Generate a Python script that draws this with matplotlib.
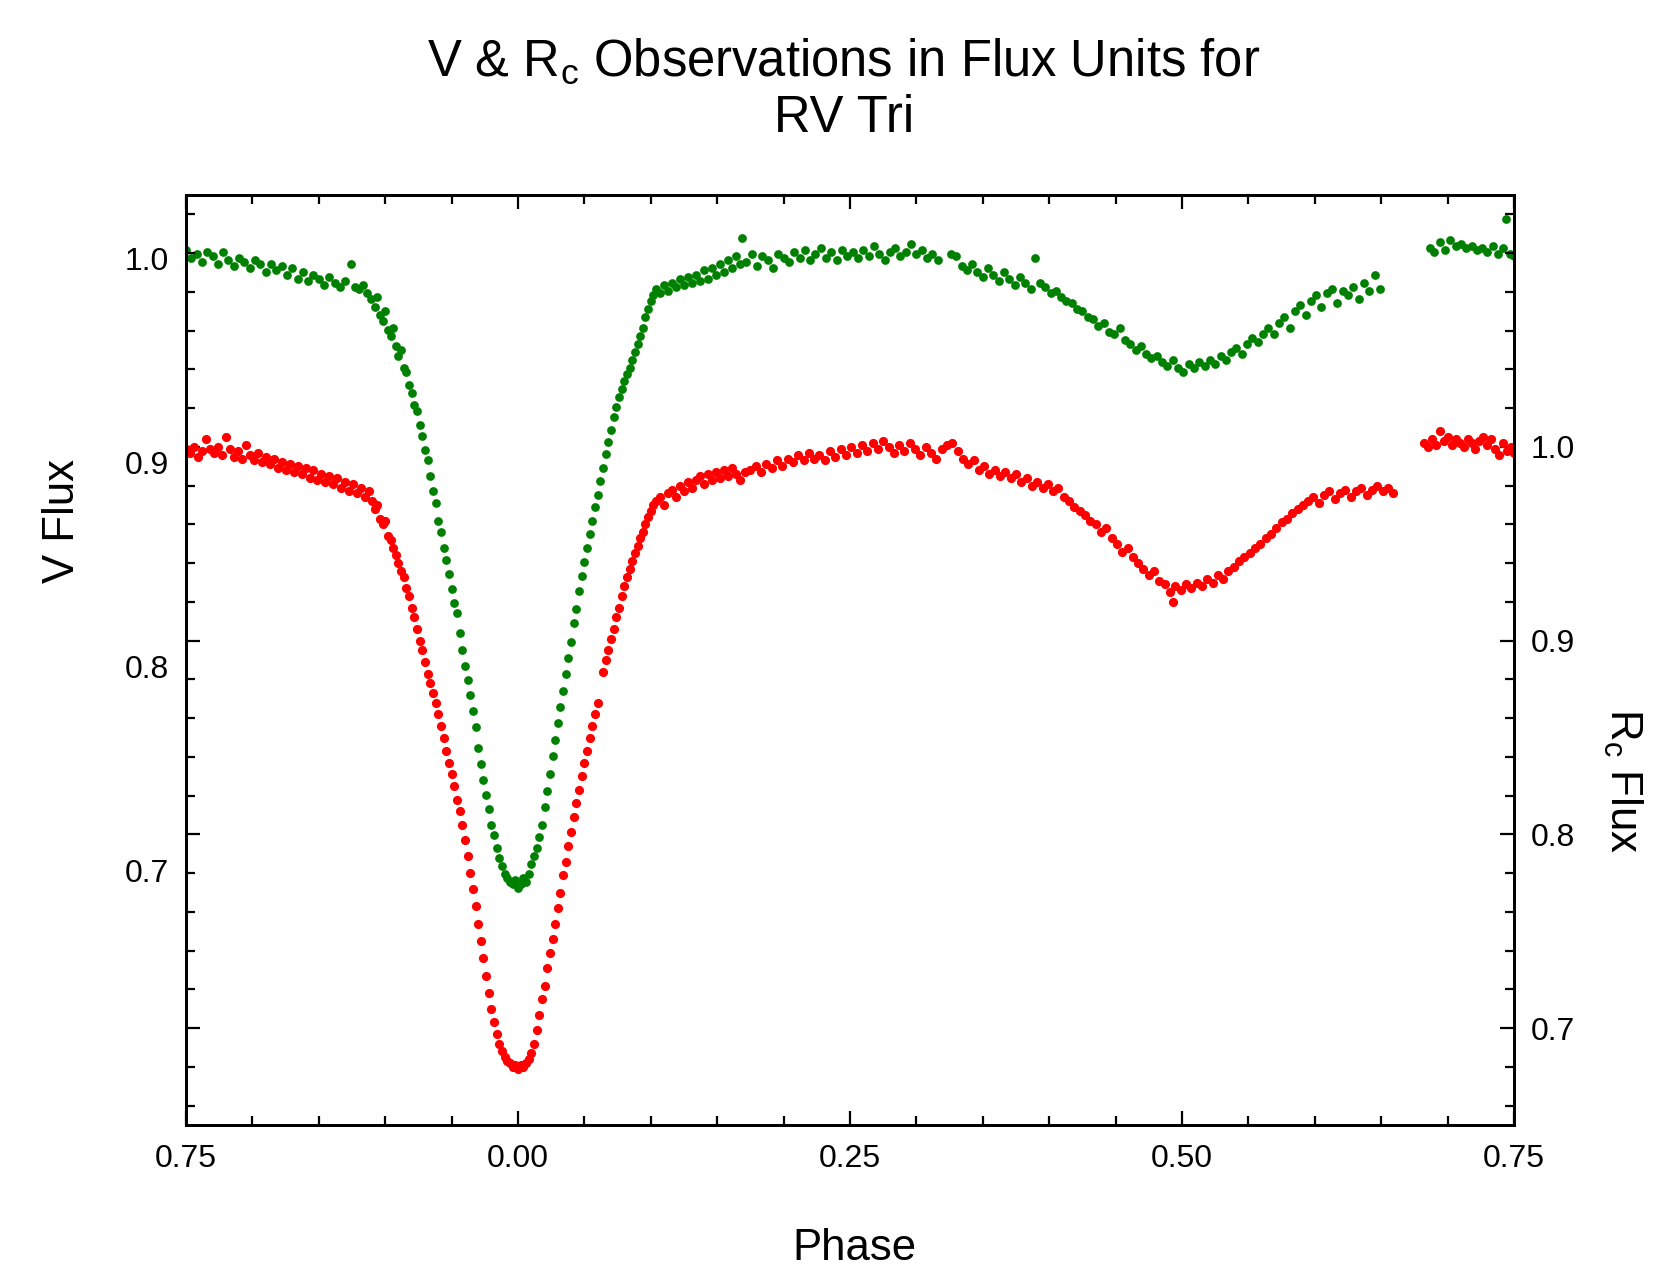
import matplotlib
matplotlib.use("Agg")
import matplotlib.pyplot as plt
from matplotlib.ticker import MultipleLocator, FixedLocator, FuncFormatter

plt.rcParams['font.family'] = ['Liberation Sans', 'DejaVu Sans']
plt.rcParams['mathtext.fontset'] = 'custom'
plt.rcParams['mathtext.rm'] = 'Liberation Sans'
plt.rcParams['mathtext.it'] = 'Liberation Sans'

# ---- V band (left axis) ----
v_phase = [
    -0.250, -0.246, -0.242, -0.238, -0.234, -0.230, -0.226, -0.222, -0.218, -0.214,
    -0.210, -0.206, -0.202, -0.198, -0.194, -0.190, -0.186, -0.182, -0.178, -0.174,
    -0.170, -0.166, -0.162, -0.158, -0.154, -0.150, -0.146, -0.142, -0.138, -0.134,
    -0.130, -0.126, -0.123, -0.120, -0.117, -0.114, -0.111, -0.108, -0.106, -0.104,
    -0.102, -0.100, -0.098, -0.096, -0.094, -0.092, -0.090, -0.088, -0.086, -0.084,
    -0.082, -0.080, -0.078, -0.076, -0.074, -0.072, -0.070, -0.068, -0.066, -0.064,
    -0.062, -0.060, -0.058, -0.056, -0.054, -0.052, -0.050, -0.048, -0.046, -0.044,
    -0.042, -0.040, -0.038, -0.036, -0.034, -0.032, -0.030, -0.028, -0.026, -0.024,
    -0.022, -0.020, -0.018, -0.016, -0.014, -0.012, -0.010, -0.008, -0.006, -0.004,
    -0.002, 0.000, 0.002, 0.004, 0.006, 0.008, 0.010, 0.012, 0.014, 0.016,
    0.018, 0.020, 0.022, 0.024, 0.026, 0.028, 0.030, 0.032, 0.034, 0.036,
    0.038, 0.040, 0.042, 0.044, 0.046, 0.048, 0.050, 0.052, 0.054, 0.056,
    0.058, 0.060, 0.062, 0.064, 0.066, 0.068, 0.070, 0.072, 0.074, 0.076,
    0.078, 0.080, 0.082, 0.084, 0.086, 0.088, 0.090, 0.092, 0.094, 0.096,
    0.098, 0.100, 0.102, 0.104, 0.107, 0.110, 0.113, 0.116, 0.119, 0.122,
    0.125, 0.128, 0.131, 0.134, 0.137, 0.140, 0.143, 0.146, 0.149, 0.152,
    0.155, 0.158, 0.161, 0.164, 0.167, 0.169, 0.172, 0.176, 0.180, 0.184,
    0.188, 0.192, 0.196, 0.200, 0.204, 0.208, 0.212, 0.216, 0.220, 0.224,
    0.228, 0.232, 0.236, 0.240, 0.244, 0.248, 0.252, 0.256, 0.260, 0.264,
    0.268, 0.272, 0.276, 0.280, 0.284, 0.288, 0.292, 0.296, 0.300, 0.304,
    0.308, 0.312, 0.316, 0.326, 0.330, 0.334, 0.338, 0.342, 0.346, 0.350,
    0.354, 0.358, 0.362, 0.366, 0.370, 0.374, 0.378, 0.382, 0.386, 0.389,
    0.393, 0.397, 0.401, 0.405, 0.409, 0.413, 0.417, 0.421, 0.425, 0.429,
    0.433, 0.437, 0.441, 0.445, 0.449, 0.453, 0.457, 0.461, 0.465, 0.469,
    0.473, 0.477, 0.481, 0.485, 0.489, 0.493, 0.497, 0.501, 0.505, 0.509,
    0.513, 0.517, 0.521, 0.525, 0.529, 0.533, 0.537, 0.541, 0.545, 0.549,
    0.553, 0.557, 0.561, 0.565, 0.569, 0.573, 0.577, 0.581, 0.585, 0.589,
    0.593, 0.597, 0.601, 0.605, 0.609, 0.613, 0.617, 0.621, 0.625, 0.629,
    0.633, 0.637, 0.641, 0.645, 0.649,
    0.687, 0.690, 0.694, 0.698, 0.702, 0.706, 0.710, 0.714, 0.718, 0.722,
    0.726, 0.730, 0.734, 0.738, 0.742, 0.744, 0.747, 0.750,
]
v_flux = [
    1.004, 1.000, 1.002, 0.998, 1.003, 1.001, 0.997, 1.003, 0.999, 0.996,
    1.000, 0.998, 0.995, 0.999, 0.997, 0.993, 0.997, 0.994, 0.996, 0.992,
    0.995, 0.990, 0.993, 0.989, 0.992, 0.990, 0.987, 0.991, 0.988, 0.986,
    0.989, 0.997, 0.986, 0.985, 0.987, 0.983, 0.980, 0.976, 0.981, 0.972,
    0.969, 0.974, 0.965, 0.962, 0.966, 0.957, 0.952, 0.955, 0.946, 0.944,
    0.938, 0.934, 0.928, 0.925, 0.918, 0.913, 0.906, 0.901, 0.893, 0.886,
    0.880, 0.871, 0.866, 0.858, 0.852, 0.845, 0.838, 0.831, 0.826, 0.816,
    0.808, 0.800, 0.793, 0.786, 0.778, 0.770, 0.760, 0.752, 0.744, 0.737,
    0.730, 0.722, 0.717, 0.711, 0.706, 0.702, 0.698, 0.696, 0.694, 0.693,
    0.695, 0.691, 0.693, 0.696, 0.694, 0.698, 0.703, 0.707, 0.711, 0.716,
    0.722, 0.731, 0.739, 0.747, 0.756, 0.764, 0.772, 0.780, 0.788, 0.796,
    0.804, 0.812, 0.821, 0.828, 0.837, 0.844, 0.851, 0.858, 0.865, 0.871,
    0.878, 0.884, 0.891, 0.897, 0.904, 0.910, 0.916, 0.922, 0.927, 0.932,
    0.936, 0.940, 0.943, 0.946, 0.950, 0.954, 0.958, 0.962, 0.966, 0.971,
    0.975, 0.979, 0.982, 0.985, 0.983, 0.987, 0.984, 0.988, 0.986, 0.990,
    0.987, 0.991, 0.988, 0.992, 0.989, 0.994, 0.990, 0.995, 0.992, 0.997,
    0.993, 0.999, 0.995, 1.001, 0.997, 1.010, 0.998, 1.002, 0.996, 1.001,
    0.999, 0.995, 1.002, 1.000, 0.998, 1.003, 1.000, 1.004, 0.999, 1.002,
    1.005, 1.000, 1.003, 0.999, 1.004, 1.001, 1.003, 1.000, 1.004, 1.001,
    1.006, 1.002, 0.999, 1.003, 1.005, 1.001, 1.003, 1.007, 1.002, 1.004,
    1.000, 1.002, 0.999, 1.002, 1.001, 0.996, 0.994, 0.997, 0.993, 0.991,
    0.995, 0.992, 0.989, 0.993, 0.990, 0.987, 0.991, 0.988, 0.985, 1.000,
    0.988, 0.986, 0.983, 0.984, 0.981, 0.979, 0.978, 0.975, 0.974, 0.971,
    0.970, 0.967, 0.968, 0.964, 0.963, 0.966, 0.960, 0.958, 0.955, 0.957,
    0.953, 0.951, 0.952, 0.949, 0.947, 0.950, 0.946, 0.944, 0.948, 0.946,
    0.949, 0.947, 0.950, 0.948, 0.952, 0.950, 0.954, 0.956, 0.953, 0.958,
    0.961, 0.959, 0.963, 0.966, 0.963, 0.968, 0.971, 0.966, 0.974, 0.977,
    0.972, 0.979, 0.982, 0.976, 0.983, 0.985, 0.978, 0.984, 0.982, 0.986,
    0.980, 0.988, 0.984, 0.992, 0.985,
    1.005, 1.003, 1.008, 1.004, 1.009, 1.006, 1.007, 1.005, 1.006, 1.004,
    1.005, 1.003, 1.006, 1.002, 1.005, 1.019, 1.002, 1.001,
]

# ---- Rc band (right axis) ----
r_phase = [
    -0.250, -0.247, -0.244, -0.241, -0.238, -0.235, -0.232, -0.229, -0.226, -0.223,
    -0.220, -0.217, -0.214, -0.211, -0.208, -0.205, -0.202, -0.199, -0.196, -0.193,
    -0.190, -0.187, -0.184, -0.181, -0.178, -0.175, -0.172, -0.169, -0.166, -0.163,
    -0.160, -0.157, -0.154, -0.151, -0.148, -0.145, -0.142, -0.139, -0.136, -0.133,
    -0.130, -0.127, -0.124, -0.121, -0.118, -0.115, -0.112, -0.110, -0.108, -0.106,
    -0.104, -0.102, -0.100, -0.098, -0.096, -0.094, -0.092, -0.090, -0.088, -0.086,
    -0.084, -0.082, -0.080, -0.078, -0.076, -0.074, -0.072, -0.070, -0.068, -0.066,
    -0.064, -0.062, -0.060, -0.058, -0.056, -0.054, -0.052, -0.050, -0.048, -0.046,
    -0.044, -0.042, -0.040, -0.038, -0.036, -0.034, -0.032, -0.030, -0.028, -0.026,
    -0.024, -0.022, -0.020, -0.018, -0.016, -0.014, -0.012, -0.010, -0.008, -0.006,
    -0.004, -0.002, 0.000, 0.002, 0.004, 0.006, 0.008, 0.010, 0.012, 0.014,
    0.016, 0.018, 0.020, 0.022, 0.024, 0.026, 0.028, 0.030, 0.032, 0.034,
    0.036, 0.038, 0.040, 0.042, 0.044, 0.046, 0.048, 0.050, 0.052, 0.054,
    0.056, 0.058, 0.060, 0.064, 0.066, 0.068, 0.070, 0.072, 0.074, 0.076,
    0.078, 0.080, 0.082, 0.084, 0.086, 0.088, 0.090, 0.092, 0.094, 0.096,
    0.098, 0.100, 0.102, 0.104, 0.107, 0.110, 0.113, 0.116, 0.119, 0.122,
    0.125, 0.128, 0.131, 0.134, 0.137, 0.140, 0.143, 0.146, 0.149, 0.152,
    0.155, 0.158, 0.161, 0.164, 0.167, 0.171, 0.175, 0.179, 0.183, 0.187,
    0.191, 0.195, 0.199, 0.203, 0.207, 0.211, 0.215, 0.219, 0.223, 0.227,
    0.231, 0.235, 0.239, 0.243, 0.247, 0.251, 0.255, 0.259, 0.263, 0.267,
    0.271, 0.275, 0.279, 0.283, 0.287, 0.291, 0.295, 0.299, 0.303, 0.307,
    0.311, 0.315, 0.319, 0.323, 0.327, 0.331, 0.335, 0.339, 0.343, 0.347,
    0.351, 0.355, 0.359, 0.363, 0.367, 0.371, 0.375, 0.379, 0.383, 0.387,
    0.391, 0.395, 0.399, 0.403, 0.407, 0.411, 0.415, 0.419, 0.423, 0.427,
    0.431, 0.435, 0.439, 0.443, 0.447, 0.451, 0.455, 0.459, 0.463, 0.467,
    0.471, 0.475, 0.479, 0.483, 0.487, 0.491, 0.493, 0.495, 0.499, 0.503,
    0.507, 0.511, 0.515, 0.519, 0.523, 0.527, 0.531, 0.535, 0.539, 0.543,
    0.547, 0.551, 0.555, 0.559, 0.563, 0.567, 0.571, 0.575, 0.579, 0.583,
    0.587, 0.591, 0.595, 0.599, 0.603, 0.607, 0.611, 0.615, 0.619, 0.623,
    0.627, 0.631, 0.635, 0.639, 0.643, 0.647, 0.651, 0.655, 0.659,
    0.682, 0.685, 0.688, 0.691, 0.694, 0.697, 0.700, 0.703, 0.706, 0.709,
    0.712, 0.715, 0.718, 0.721, 0.724, 0.727, 0.730, 0.733, 0.736, 0.739,
    0.742, 0.745, 0.748, 0.750,
]
r_flux = [
    0.999, 0.997, 1.000, 0.995, 0.998, 1.004, 0.999, 0.997, 1.000, 0.996,
    1.005, 0.999, 0.995, 0.998, 0.994, 1.001, 0.996, 0.993, 0.997, 0.992,
    0.995, 0.991, 0.994, 0.989, 0.992, 0.988, 0.991, 0.987, 0.990, 0.986,
    0.989, 0.984, 0.988, 0.983, 0.986, 0.982, 0.985, 0.981, 0.984, 0.979,
    0.982, 0.977, 0.981, 0.976, 0.979, 0.974, 0.977, 0.972, 0.968, 0.970,
    0.963, 0.960, 0.962, 0.954, 0.952, 0.948, 0.944, 0.940, 0.936, 0.933,
    0.927, 0.923, 0.917, 0.912, 0.906, 0.900, 0.895, 0.889, 0.883, 0.878,
    0.873, 0.868, 0.862, 0.856, 0.850, 0.843, 0.837, 0.831, 0.825, 0.818,
    0.812, 0.805, 0.797, 0.789, 0.780, 0.772, 0.763, 0.754, 0.745, 0.736,
    0.727, 0.718, 0.710, 0.703, 0.697, 0.692, 0.688, 0.685, 0.683, 0.682,
    0.680, 0.681, 0.679, 0.681, 0.680, 0.682, 0.684, 0.687, 0.692, 0.699,
    0.707, 0.715, 0.722, 0.731, 0.739, 0.746, 0.754, 0.762, 0.770, 0.779,
    0.786, 0.794, 0.801, 0.809, 0.816, 0.823, 0.830, 0.837, 0.843, 0.850,
    0.856, 0.862, 0.868, 0.884, 0.890, 0.895, 0.901, 0.906, 0.912, 0.917,
    0.923, 0.928, 0.933, 0.937, 0.941, 0.945, 0.949, 0.953, 0.956, 0.960,
    0.964, 0.967, 0.970, 0.972, 0.974, 0.970, 0.976, 0.978, 0.974, 0.980,
    0.977, 0.982, 0.979, 0.983, 0.985, 0.981, 0.986, 0.983, 0.987, 0.984,
    0.988, 0.985, 0.989, 0.986, 0.983, 0.987, 0.988, 0.990, 0.987, 0.991,
    0.989, 0.993, 0.990, 0.994, 0.992, 0.996, 0.993, 0.997, 0.994, 0.996,
    0.993, 0.998, 0.995, 0.999, 0.996, 1.000, 0.997, 1.001, 0.998, 1.002,
    0.999, 1.003, 1.000, 0.997, 1.001, 0.998, 1.002, 0.999, 0.996, 1.000,
    0.997, 0.994, 0.999, 1.001, 1.002, 0.998, 0.994, 0.991, 0.993, 0.988,
    0.990, 0.986, 0.988, 0.985, 0.987, 0.984, 0.986, 0.982, 0.984, 0.980,
    0.982, 0.979, 0.981, 0.977, 0.979, 0.974, 0.972, 0.969, 0.967, 0.965,
    0.962, 0.960, 0.956, 0.958, 0.953, 0.950, 0.946, 0.948, 0.943, 0.940,
    0.937, 0.934, 0.936, 0.931, 0.929, 0.925, 0.920, 0.928, 0.926, 0.929,
    0.927, 0.930, 0.928, 0.932, 0.930, 0.934, 0.932, 0.936, 0.938, 0.941,
    0.943, 0.945, 0.948, 0.950, 0.953, 0.955, 0.958, 0.961, 0.963, 0.966,
    0.968, 0.970, 0.972, 0.974, 0.971, 0.975, 0.977, 0.973, 0.976, 0.978,
    0.974, 0.977, 0.979, 0.975, 0.978, 0.980, 0.977, 0.979, 0.976,
    1.002, 1.000, 1.004, 1.001, 1.008, 1.003, 1.005, 1.001, 1.004, 1.002,
    1.000, 1.004, 1.002, 0.999, 1.003, 1.005, 1.001, 1.004, 0.999, 0.996,
    1.002, 0.998, 1.000, 0.997,
]

# axis settings
phase_major = [-0.25, 0.0, 0.25, 0.5, 0.75]
v_ticks = [0.7, 0.8, 0.9, 1.0]
r_ticks = [0.7, 0.8, 0.9, 1.0]

fig = plt.figure(figsize=(16.53, 12.76), dpi=100)
ax = fig.add_axes([186 / 1653, 151 / 1276, 1328 / 1653, 930 / 1276])
ax2 = ax.twinx()

ax.plot(v_phase, v_flux, 'o', color='#008000', markersize=6.3, markeredgewidth=0)
ax2.plot(r_phase, r_flux, 'o', color='#ff0000', markersize=6.6, markeredgewidth=0)

ax.set_xlim(-0.25, 0.75)
ax.set_ylim(0.575, 1.031)
ax2.set_ylim(0.65, 1.13)

# x axis
ax.xaxis.set_major_locator(FixedLocator(phase_major))
ax.xaxis.set_minor_locator(MultipleLocator(0.05))
ax.xaxis.set_major_formatter(FuncFormatter(lambda x, pos: f"{x % 1:.2f}"))
ax.tick_params(axis='x', which='both', direction='in', top=True, width=1.6,
               labelsize=23, pad=14)
ax.tick_params(axis='x', which='major', length=10)
ax.tick_params(axis='x', which='minor', length=6.5)

# V axis: labels only
ax.set_yticks(v_ticks)
ax.yaxis.set_major_formatter(FuncFormatter(lambda y, pos: f"{y:.1f}"))
ax.tick_params(axis='y', which='both', length=0, labelsize=23, pad=12)

# Rc axis: ticks on both sides, labels on the right
ax2.yaxis.set_major_locator(FixedLocator(r_ticks))
ax2.yaxis.set_minor_locator(MultipleLocator(0.02))
ax2.yaxis.set_major_formatter(FuncFormatter(lambda y, pos: f"{y:.1f}"))
ax2.tick_params(axis='y', which='both', direction='in', left=True, right=True,
                labelleft=False, labelright=True, width=1.6, labelsize=23, pad=12)
ax2.tick_params(axis='y', which='major', length=10)
ax2.tick_params(axis='y', which='minor', length=6.5)

for a in (ax, ax2):
    for s in a.spines.values():
        s.set_linewidth(2)

fig.text(844 / 1653, 1 - 62 / 1276, r"V & R$_\mathregular{c}$ Observations in Flux Units for",
         ha='center', va='center', fontsize=36.5)
fig.text(844 / 1653, 1 - 119 / 1276, "RV Tri", ha='center', va='center', fontsize=36.5)
fig.text(854 / 1653, 1 - 1249 / 1276, "Phase", ha='center', va='center', fontsize=31.5)
fig.text(63 / 1653, 1 - 521 / 1276, "V Flux", ha='center', va='center', fontsize=31.5,
         rotation=90)
fig.text(1623 / 1653, 1 - 780 / 1276, r"R$_\mathregular{c}$ Flux", ha='center', va='center',
         fontsize=31.5, rotation=-90)

fig.savefig("out.png", dpi=100)
